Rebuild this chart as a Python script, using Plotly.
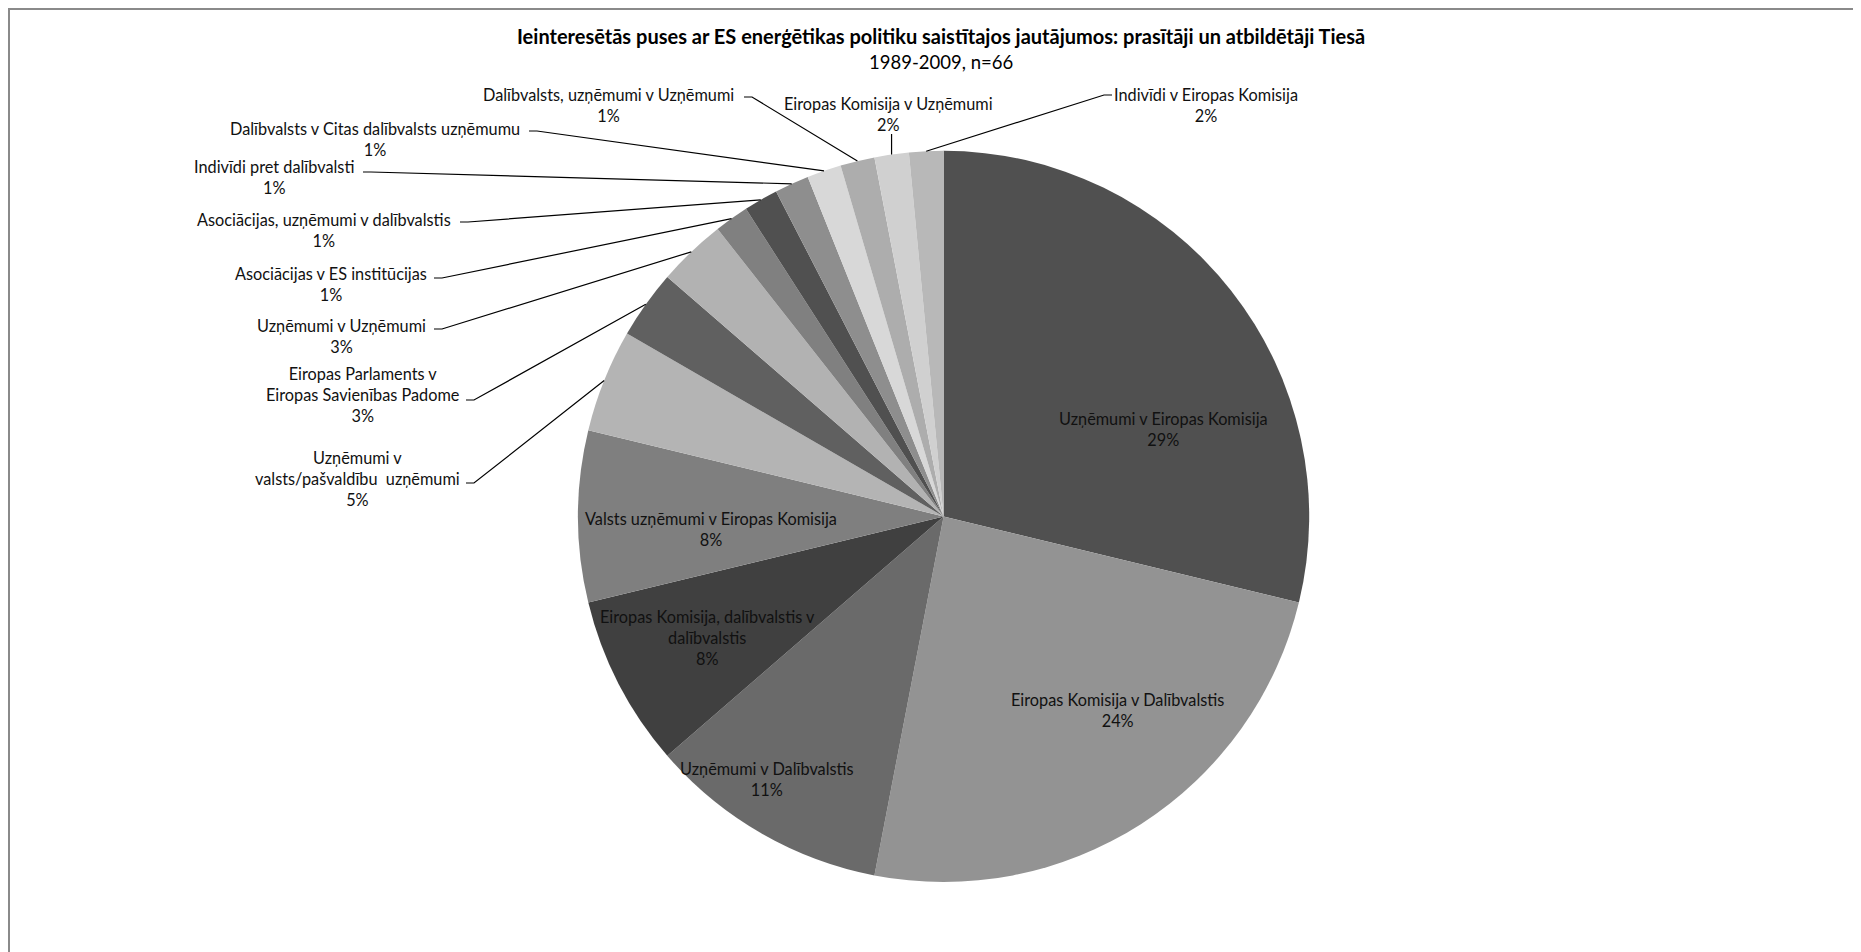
import math
import plotly.graph_objects as go

# ---- data ----
categories = [
    "Uzņēmumi v Eiropas Komisija",
    "Eiropas Komisija v Dalībvalstis",
    "Uzņēmumi v Dalībvalstis",
    "Eiropas Komisija, dalībvalstis v dalībvalstis",
    "Valsts uzņēmumi v Eiropas Komisija",
    "Uzņēmumi v valsts/pašvaldību uzņēmumi",
    "Eiropas Parlaments v Eiropas Savienības Padome",
    "Uzņēmumi v Uzņēmumi",
    "Asociācijas v ES institūcijas",
    "Asociācijas, uzņēmumi v dalībvalstis",
    "Indivīdi pret dalībvalsti",
    "Dalībvalsts v Citas dalībvalsts uzņēmumu",
    "Dalībvalsts, uzņēmumi v Uzņēmumi",
    "Eiropas Komisija v Uzņēmumi",
    "Indivīdi v Eiropas Komisija",
]
counts = [19, 16, 7, 5, 5, 3, 2, 2, 1, 1, 1, 1, 1, 1, 1]
pct_labels = ["29%", "24%", "11%", "8%", "8%", "5%", "3%", "3%",
              "1%", "1%", "1%", "1%", "1%", "2%", "2%"]
label_lines = [
    "Uzņēmumi v Eiropas Komisija",
    "Eiropas Komisija v Dalībvalstis",
    "Uzņēmumi v Dalībvalstis",
    "Eiropas Komisija, dalībvalstis v<br>dalībvalstis",
    "Valsts uzņēmumi v Eiropas Komisija",
    "Uzņēmumi v<br>valsts/pašvaldību  uzņēmumi",
    "Eiropas Parlaments v<br>Eiropas Savienības Padome",
    "Uzņēmumi v Uzņēmumi",
    "Asociācijas v ES institūcijas",
    "Asociācijas, uzņēmumi v dalībvalstis",
    "Indivīdi pret dalībvalsti",
    "Dalībvalsts v Citas dalībvalsts uzņēmumu",
    "Dalībvalsts, uzņēmumi v Uzņēmumi",
    "Eiropas Komisija v Uzņēmumi",
    "Indivīdi v Eiropas Komisija",
]
colors = ["#505050", "#939393", "#6a6a6a", "#404040", "#7f7f7f", "#b4b4b4",
          "#606060", "#b2b2b2", "#808080", "#505050", "#8e8e8e", "#d8d8d8",
          "#adadad", "#d0d0d0", "#b8b8b8"]

title_main = "Ieinteresētās puses ar ES enerģētikas politiku saistītajos jautājumos: prasītāji un atbildētāji Tiesā"
title_sub = "1989-2009, n=66"

# ---- layout (pixels, as seen on screen; page body adds an 8px offset) ----
W, H = 1861, 952
OFF = 8
FONT = "Lato, Carlito, 'Open Sans', sans-serif"
dom_x = [(578 - OFF) / W, (1309.2 - OFF) / W]
dom_y = [1 - (882 - OFF) / H, 1 - (150.8 - OFF) / H]

# label centre positions in screen pixels
label_pos = [
    (1163, 429), (1117, 710), (767, 779), (707, 637), (711, 529),
    (357, 478), (362, 394), (341, 336), (331, 284), (324, 230),
    (274, 177), (375, 139), (608, 105), (888, 114), (1206, 105),
]
# leader line start points (screen pixels) and tick direction; None = inside label
leader = [None, None, None, None, None,
          (466, 483, 1), (466, 400, 1), (434, 329, 1), (434, 278, 1),
          (460, 222, 1), (363, 172, 1), (529, 131, 1), (744, 97, 1),
          (None, 134, 0), (1112, 95, -1)]

fig = go.Figure(go.Pie(
    labels=categories, values=counts, sort=False, direction="clockwise",
    rotation=0, textinfo="none", hoverinfo="label+percent",
    marker=dict(colors=colors, line=dict(width=0)),
    domain=dict(x=dom_x, y=dom_y), showlegend=False,
))


def px2paper(x, y):
    return (x - OFF) / W, 1 - (y - OFF) / H


annotations = []
shapes = []
# pie geometry in screen pixels (derived from the domain)
cx = (dom_x[0] + dom_x[1]) / 2 * W + OFF
cy = (1 - (dom_y[0] + dom_y[1]) / 2) * H + OFF
r = min((dom_x[1] - dom_x[0]) * W, (dom_y[1] - dom_y[0]) * H) / 2
total = sum(counts)
cum = 0
for i, v in enumerate(counts):
    theta = (cum + v / 2) / total * 2 * math.pi
    cum += v
    ex, ey = cx + r * math.sin(theta), cy - r * math.cos(theta)
    lx, ly = label_pos[i]
    px, py = px2paper(lx, ly)
    annotations.append(dict(
        x=px, y=py, xref="paper", yref="paper", xanchor="center", yanchor="middle",
        text=label_lines[i] + "<br>" + pct_labels[i], showarrow=False, align="center",
        font=dict(family=FONT, size=16.3, color="#111111")))
    if leader[i] is not None:
        sx, sy, d = leader[i]
        if sx is None:
            sx = ex
        pts = [(sx, sy)]
        if d != 0:
            pts.append((sx + 8 * d, sy))
        pts.append((ex, ey))
        path = ""
        for k, (a, b) in enumerate(pts):
            qa, qb = px2paper(a, b)
            path += ("M" if k == 0 else " L") + f" {qa:.5f},{qb:.5f}"
        shapes.append(dict(type="path", path=path, xref="paper", yref="paper",
                           line=dict(color="#000000", width=1.2)))

tx, ty = px2paper(941, 36)
annotations.append(dict(x=tx, y=ty, xref="paper", yref="paper", xanchor="center",
                        yanchor="middle", showarrow=False, text="<b>" + title_main + "</b>",
                        font=dict(family=FONT, size=20, color="#000000")))
tx, ty = px2paper(941, 62)
annotations.append(dict(x=tx, y=ty, xref="paper", yref="paper", xanchor="center",
                        yanchor="middle", showarrow=False, text=title_sub,
                        font=dict(family=FONT, size=18.5, color="#000000")))

# chart-area frame
shapes.append(dict(type="rect", xref="paper", yref="paper",
                   x0=1 / W, y0=1 / H, x1=1 - 1 / W, y1=1 - 1 / H,
                   line=dict(color="#8a8a8a", width=2)))

fig.update_layout(
    width=W, height=H, margin=dict(l=0, r=0, t=0, b=0),
    paper_bgcolor="white", plot_bgcolor="white",
    annotations=annotations, shapes=shapes,
    font=dict(family=FONT),
)
fig.write_html("out.html")
